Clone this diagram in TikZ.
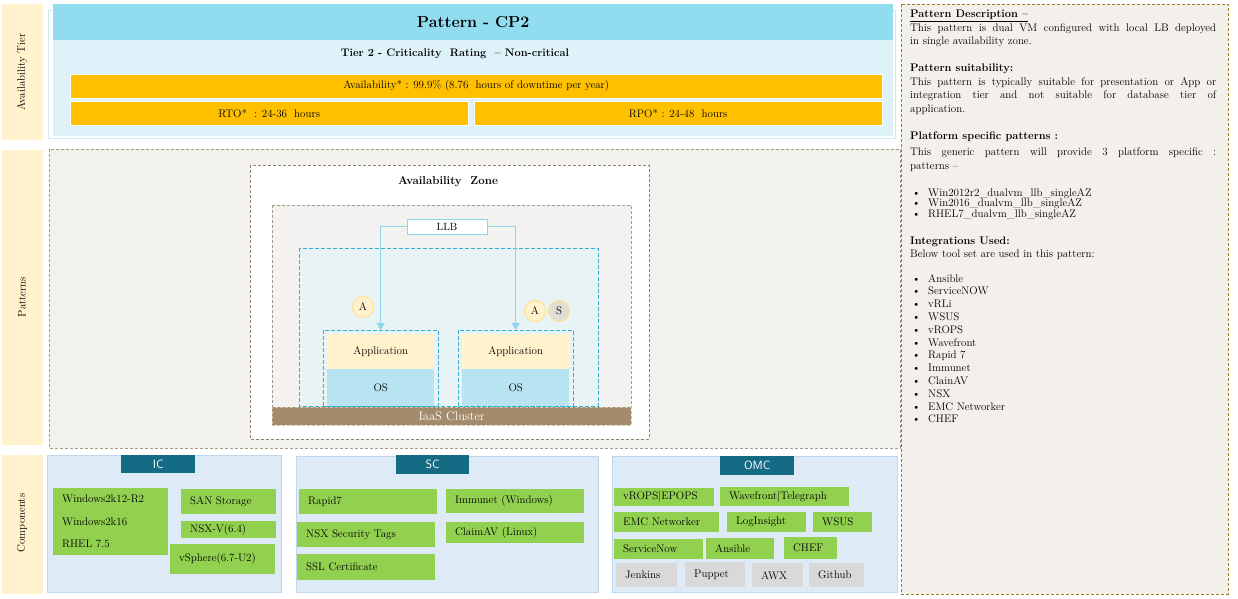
\documentclass[tikz,border=0pt]{standalone}
\usepackage{tikz}
\usepackage{xcolor}
\usetikzlibrary{arrows.meta}

\definecolor{cBeige}{HTML}{FFF2CC}
\definecolor{cTitle}{HTML}{92DCEF}
\definecolor{cTierBg}{HTML}{DDF2F9}
\definecolor{cTierLine}{HTML}{CFEAF4}
\definecolor{cOrange}{HTML}{FFC000}
\definecolor{cPatBg}{HTML}{F3F1EC}
\definecolor{cPatLine}{HTML}{A69886}
\definecolor{cAZLine}{HTML}{8F8170}
\definecolor{cZoneBg}{HTML}{F3F2F0}
\definecolor{cNetBg}{HTML}{E8F3F6}
\definecolor{cVMLine}{HTML}{3AAED2}
\definecolor{cLLB}{HTML}{8ED6EE}
\definecolor{cOS}{HTML}{B8E4F2}
\definecolor{cIaas}{HTML}{A38B6B}
\definecolor{cIaasLine}{HTML}{CDBFA8}
\definecolor{cTagLine}{HTML}{FFE38C}
\definecolor{cTagGrey}{HTML}{E2DDD6}
\definecolor{cComp}{HTML}{DEEAF6}
\definecolor{cCompLine}{HTML}{BDD7EE}
\definecolor{cHead}{HTML}{156B84}
\definecolor{cGreen}{HTML}{92D050}
\definecolor{cGrey}{HTML}{D9D9D9}
\definecolor{cPanel}{HTML}{F3F0EB}
\definecolor{cPanelLine}{HTML}{9C7F20}

\begin{document}
\begin{tikzpicture}[x=1pt,y=-1pt,
  every node/.style={font=\fontsize{11}{13}\selectfont},
  sidelabel/.style={rotate=90},
  bar/.style={fill=cOrange,draw=white,anchor=north west,inner sep=0pt},
  comp/.style={fill=cGreen,anchor=north west,inner xsep=9pt,inner ysep=0pt,align=left},
  tool/.style={comp,fill=cGrey},
  head/.style={fill=cHead,text=white,anchor=north west,inner sep=0pt,font=\sffamily\fontsize{12}{14}\selectfont},
  layer/.style={anchor=north west,inner sep=0pt,minimum width=107pt},
  vmbox/.style={draw=cVMLine,dash pattern=on 4pt off 2pt,anchor=north west,inner sep=0pt,minimum width=115pt,minimum height=76pt},
  tag/.style={circle,fill=cBeige,draw=cTagLine,line width=1pt,minimum size=21pt,inner sep=0pt},
  panel/.style={anchor=north west,inner sep=0pt,text width=306pt,align=justify,font=\fontsize{11}{13.5}\selectfont},
  zone/.style={dash pattern=on 3pt off 2pt}]
  \useasboundingbox (0,0) rectangle (1238,598);
  % Columna de etiquetas
  \fill[cBeige] (2,4) rectangle (43,140);
  \fill[cBeige] (2,150) rectangle (43,445);
  \fill[cBeige] (2,455) rectangle (43,594);
  \node[sidelabel] (tierlab) at (22,72) {Availability Tier};
  \node[sidelabel] (patlab) at (22,297) {Patterns};
  \node[sidelabel] (complab) at (22,523) {Components};
  % Nivel de disponibilidad
  \draw[cTierLine] (48,10) rectangle (895,138);
  \fill[cTierBg] (53,40) rectangle (893,136);
  \node[fill=cTitle,anchor=north west,minimum width=840pt,minimum height=36pt,inner sep=0pt,
    font=\bfseries\fontsize{16}{19}\selectfont] (title) at (53,4) {Pattern - CP2};
  \node[font=\bfseries\fontsize{11}{13}\selectfont] (tier) at (455,54) {Tier 2 - Criticality\ \ Rating\ \ – Non-critical};
  \node[bar,minimum width=812pt,minimum height=24pt] (avail) at (70,74) {Availability* : 99.9\% (8.76\ \ hours of downtime per year)};
  \node[bar,minimum width=398pt,minimum height=24pt] (rto) at (70,101) {RTO*\ \ : 24-36\ \ hours};
  \node[bar,minimum width=408pt,minimum height=24pt] (rpo) at (474,101) {RPO* : 24-48\ \ hours};
  % Patrones
  \draw[zone,draw=cPatLine,fill=cPatBg] (49,149) rectangle (900,448);
  \draw[zone,draw=cAZLine,fill=white] (250,165) rectangle (649,439);
  \node[font=\bfseries\fontsize{11.5}{14}\selectfont] (az) at (448,182) {Availability\ \ Zone};
  \draw[zone,draw=cPatLine,fill=cZoneBg] (272,205) rectangle (631,425);
  \draw[draw=cVMLine,dash pattern=on 4pt off 2pt,fill=cNetBg] (299,248) rectangle (598,406);
  % Maquinas virtuales
  \node[layer,fill=cBeige,minimum height=35pt] (app1) at (327,334) {Application};
  \node[layer,fill=cOS,minimum height=37pt] (os1) at (327,369) {OS};
  \node[vmbox] (vm1) at (323,330) {};
  \node[layer,fill=cBeige,minimum height=35pt] (app2) at (462,334) {Application};
  \node[layer,fill=cOS,minimum height=37pt] (os2) at (462,369) {OS};
  \node[vmbox] (vm2) at (458,330) {};
  % Cluster
  \node[fill=cIaas,draw=cIaasLine,zone,anchor=north west,inner sep=0pt,minimum width=359pt,minimum height=18pt,
    text=white,font=\fontsize{12.5}{14}\selectfont] (iaas) at (272,407) {IaaS Cluster};
  % Balanceador
  \node[fill=white,draw=cLLB,line width=0.8pt,minimum width=80pt,minimum height=15pt,inner sep=0pt,
    font=\fontsize{10.5}{12}\selectfont] (llb) at (447,226.5) {LLB};
  \draw[cLLB,line width=1.2pt,-{Triangle[width=8pt,length=7pt]}] (llb.west) -| (vm1.north);
  \draw[cLLB,line width=1.2pt,-{Triangle[width=8pt,length=7pt]}] (llb.east) -| (vm2.north);
  % Agentes
  \node[tag] (tagA1) at (363,307) {A};
  \node[tag] (tagA2) at (535,311) {A};
  \node[tag,fill=cTagGrey] (tagS) at (559,311) {S};
  % Componentes IC
  \draw[fill=cComp,draw=cCompLine] (47,455) rectangle (281,592);
  \node[head,minimum width=74pt,minimum height=18pt] (ic) at (121,455) {IC};
  \node[comp,text width=97pt,minimum height=67pt] (icos) at (53,488) {Windows2k12-R2\\[9.5pt]Windows2k16\\[9.5pt]RHEL 7.5};
  \node[comp,text width=77pt,minimum height=25pt] (icsan) at (181,489) {SAN Storage};
  \node[comp,text width=77pt,minimum height=17pt] (icnsx) at (181,521) {NSX-V(6.4)};
  \node[comp,text width=87pt,minimum height=30pt] (icvs) at (170,544) {vSphere(6.7-U2)};
  % Componentes SC
  \draw[fill=cComp,draw=cCompLine] (296,456) rectangle (598,592);
  \node[head,minimum width=73pt,minimum height=19pt] (sc) at (396,455) {SC};
  \node[comp,text width=120pt,minimum height=25pt] (scrapid) at (299,489) {Rapid7};
  \node[comp,text width=120pt,minimum height=25pt] (sctags) at (297,522) {NSX Security Tags};
  \node[comp,text width=120pt,minimum height=26pt] (scssl) at (297,554) {SSL Certificate};
  \node[comp,text width=120pt,minimum height=24pt] (scimm) at (446,489) {Immunet (Windows)};
  \node[comp,text width=120pt,minimum height=21pt] (scclam) at (446,522) {ClaimAV (Linux)};
  % Componentes OMC
  \draw[fill=cComp,draw=cCompLine] (612,456) rectangle (897,592);
  \node[head,minimum width=74pt,minimum height=19pt] (omc) at (720,456) {OMC};
  \node[comp,text width=82pt,minimum height=18pt] (omvrops) at (614,488) {vROPS|EPOPS};
  \node[comp,text width=111pt,minimum height=19pt] (omwave) at (720,487) {Wavefront|Telegraph};
  \node[comp,text width=87pt,minimum height=20pt] (omemc) at (614,512) {EMC Networker};
  \node[comp,text width=61pt,minimum height=20pt] (omlog) at (727,512) {LogInsight};
  \node[comp,text width=41pt,minimum height=20pt] (omwsus) at (813,512) {WSUS};
  \node[comp,text width=71pt,minimum height=20pt] (omsnow) at (614,539) {ServiceNow};
  \node[comp,text width=50pt,minimum height=21pt] (omans) at (706,538) {Ansible};
  \node[comp,text width=35pt,minimum height=22pt] (omchef) at (784,537) {CHEF};
  \node[tool,text width=43pt,minimum height=24pt] (omjen) at (616,563) {Jenkins};
  \node[tool,text width=42pt,minimum height=25pt] (ompup) at (685,562) {Puppet};
  \node[tool,text width=33pt,minimum height=24pt] (omawx) at (752,563) {AWX};
  \node[tool,text width=37pt,minimum height=24pt] (omgit) at (809,563) {Github};
  % Panel de descripcion
  \draw[zone,draw=cPanelLine,fill=cPanel] (901,4) rectangle (1228,594);
  \node[panel] (desc) at (910,10) {\underline{\textbf{Pattern Description –}}\\
    This pattern is dual VM configured with local LB deployed\linebreak in single availability zone.};
  \node[panel] (suit) at (910,64) {\textbf{Pattern suitability:}\\
    This pattern is typically suitable for presentation or App or\linebreak integration tier and not suitable for database tier of\linebreak application.};
  \node[panel] (plat) at (910,132) {\textbf{Platform specific patterns :}\\[2.5pt]
    This generic pattern will provide 3 platform specific :\linebreak patterns –};
  \node[panel,align=left,font=\fontsize{11}{10.8}\selectfont] (platlist) at (912,188) {%
    \makebox[16pt][l]{\textbullet}Win2012r2\_dualvm\_llb\_singleAZ\\
    \makebox[16pt][l]{\textbullet}Win2016\_dualvm\_llb\_singleAZ\\
    \makebox[16pt][l]{\textbullet}RHEL7\_dualvm\_llb\_singleAZ};
  \node[panel] (integ) at (910,237) {\textbf{Integrations Used:}\\[-1pt]
    Below tool set are used in this pattern:};
  \node[panel,align=left,font=\fontsize{11}{12.8}\selectfont] (integlist) at (912,274) {%
    \makebox[16pt][l]{\textbullet}Ansible\\
    \makebox[16pt][l]{\textbullet}ServiceNOW\\
    \makebox[16pt][l]{\textbullet}vRLi\\
    \makebox[16pt][l]{\textbullet}WSUS\\
    \makebox[16pt][l]{\textbullet}vROPS\\
    \makebox[16pt][l]{\textbullet}Wavefront\\
    \makebox[16pt][l]{\textbullet}Rapid 7\\
    \makebox[16pt][l]{\textbullet}Immunet\\
    \makebox[16pt][l]{\textbullet}ClainAV\\
    \makebox[16pt][l]{\textbullet}NSX\\
    \makebox[16pt][l]{\textbullet}EMC Networker\\
    \makebox[16pt][l]{\textbullet}CHEF};
\end{tikzpicture}
\end{document}
